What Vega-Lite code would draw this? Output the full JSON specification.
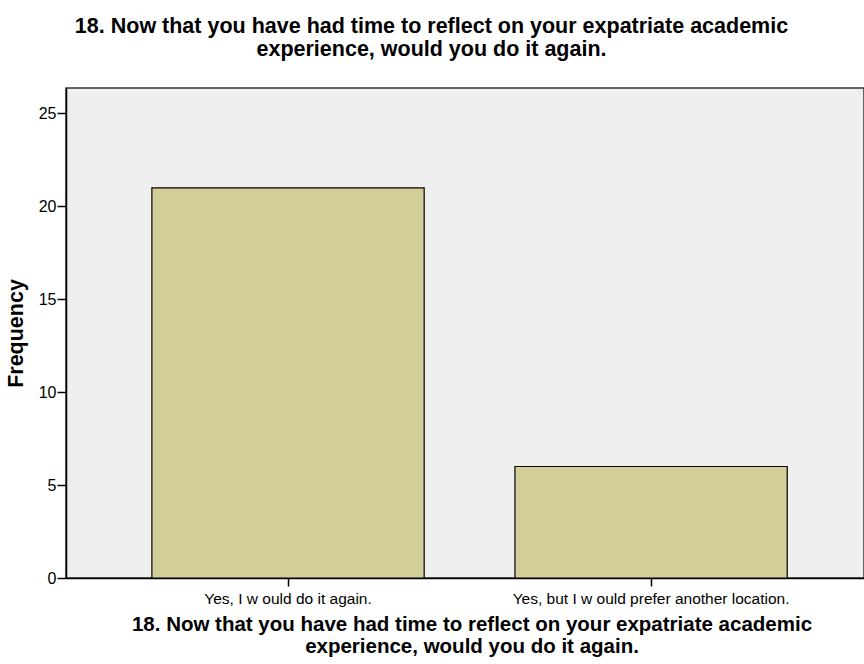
{
  "$schema": "https://vega.github.io/schema/vega-lite/v6.json",
  "autosize": "none",
  "width": 798,
  "height": 490,
  "padding": {"left": 66, "top": 88, "right": 0, "bottom": 86},
  "background": "white",
  "title": {
    "text": ["18. Now that you have had time to reflect on your expatriate academic", "experience, would you do it again."],
    "font": "Liberation Sans",
    "fontSize": 21.5,
    "fontWeight": "bold",
    "color": "black",
    "lineHeight": 23,
    "anchor": "middle",
    "frame": "group",
    "dx": -33.5,
    "offset": 28
  },
  "data": {
    "values": [
      {"answer": "Yes, I w ould do it again.", "frequency": 21},
      {"answer": "Yes, but I w ould prefer another location.", "frequency": 6}
    ]
  },
  "mark": {"type": "bar", "fill": "#d3cd97", "stroke": "black", "strokeWidth": 1.2},
  "encoding": {
    "x": {
      "field": "answer",
      "type": "nominal",
      "sort": null,
      "scale": {"paddingInner": 0.25, "paddingOuter": 0.224, "align": 0.528},
      "axis": {
        "title": ["18. Now that you have had time to reflect on your expatriate academic", "experience, would you do it again."],
        "titleFont": "Liberation Sans",
        "titleFontSize": 20.5,
        "titleFontWeight": "bold",
        "titleColor": "black",
        "titleLineHeight": 21.5,
        "titlePadding": 8,
        "titleX": 405.5,
        "titleAlign": "center",
        "labelAngle": 0,
        "labelFont": "Liberation Sans",
        "labelFontSize": 15.5,
        "labelLimit": 0,
        "labelColor": "black",
        "labelPadding": 5,
        "domainColor": "black",
        "domainWidth": 1.5,
        "tickColor": "black",
        "tickWidth": 1.5,
        "tickSize": 8,
        "grid": false
      }
    },
    "y": {
      "field": "frequency",
      "type": "quantitative",
      "scale": {"domain": [0, 26.37], "nice": false},
      "axis": {
        "title": "Frequency",
        "titleFont": "Liberation Sans",
        "titleFontSize": 21.5,
        "titleFontWeight": "bold",
        "titleColor": "black",
        "titlePadding": 11,
        "values": [0, 5, 10, 15, 20, 25],
        "labelFont": "Liberation Sans",
        "labelFontSize": 16,
        "labelColor": "black",
        "labelPadding": 1,
        "domainColor": "black",
        "domainWidth": 1.5,
        "tickColor": "black",
        "tickWidth": 1.5,
        "tickSize": 9,
        "grid": false
      }
    }
  },
  "config": {
    "view": {"fill": "#efefef", "stroke": "#333333", "strokeWidth": 1.5}
  }
}
